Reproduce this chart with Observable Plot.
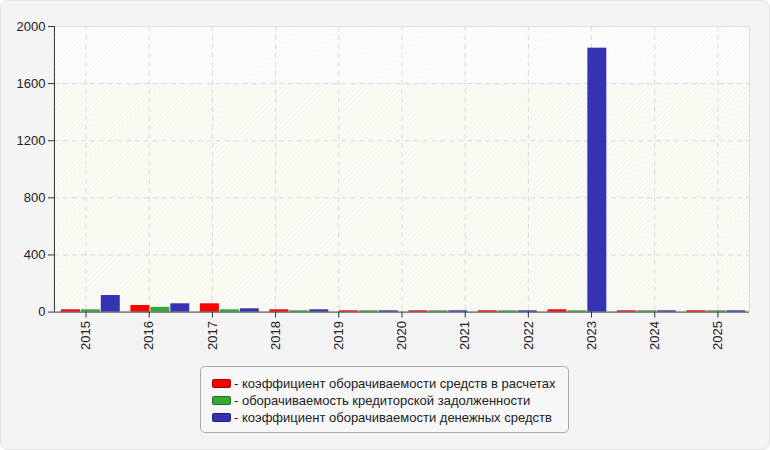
<!DOCTYPE html>
<html>
<head>
<meta charset="utf-8">
<script src="https://cdn.jsdelivr.net/npm/d3@7"></script>
<script src="https://cdn.jsdelivr.net/npm/@observablehq/plot@0.6"></script>
<style>
  html, body { margin: 0; padding: 0; background: #ffffff; }
  body { font-family: "Liberation Sans", Arial, sans-serif; }
  #card {
    position: relative; width: 768px; height: 448px;
    background: #f4f4f4; border: 1px solid #e3e3e3; border-radius: 8px; overflow: hidden;
  }
  #chart { position: absolute; left: -1px; top: -1px; }
  #legend {
    position: absolute; left: 199px; top: 365px; width: 369px; height: 67px;
    border: 1px solid #aaaaaa; border-radius: 5px; background: #f7f7f7;
    box-sizing: border-box; padding: 8px 0 0 11px;
    font-size: 13px; color: #222; line-height: 17px;
  }
  .row { display: flex; align-items: center; height: 17px; white-space: nowrap; }
  .sw { width: 17px; height: 7px; border-radius: 2px; margin-right: 3px; border: 1px solid rgba(0,0,0,0.35); }
</style>
</head>
<body>
<div id="card">
  <div id="chart"></div>
  <div id="legend"></div>
</div>
<script>
// ---- data ----
const barYears = [2015, 2016, 2017, 2018, 2019, 2020, 2021, 2022, 2023, 2024];
const axisYears = [2015, 2016, 2017, 2018, 2019, 2020, 2021, 2022, 2023, 2024, 2025];
const seriesNames = [
  "коэффициент оборачиваемости средств в расчетах",
  "оборачиваемость кредиторской задолженности",
  "коэффициент оборачиваемости денежных средств"
];
const receivablesTurnover = [16, 46, 58, 16, 9, 9, 9, 16, 9, 9];
const payablesTurnover    = [16, 33, 16, 9, 9, 9, 9, 9, 9, 9];
const cashTurnover        = [116, 58, 23, 16, 9, 9, 9, 1848, 9, 9];
const yTicks = [0, 400, 800, 1200, 1600, 2000];
const bandBreaks = [0, 1600, 2000];

// ---- styling ----
const colors = ["#ff0000", "#33aa33", "#3333b3"];
const seriesValues = [receivablesTurnover, payablesTurnover, cashTurnover];

// x is measured in axis-label units; bar groups are laid out in 10 equal slots across the same span
const xMin = axisYears[0] - 0.5, xMax = axisYears[axisYears.length - 1] + 0.5;
const groupW = (xMax - xMin) / barYears.length;
const bars = [];
barYears.forEach((yr, gi) => {
  seriesValues.forEach((vals, si) => {
    const x1 = xMin + groupW * (gi + 0.1 + si * 0.287);
    bars.push({year: yr, series: seriesNames[si], value: vals[gi], x1, x2: x1 + groupW * 0.273});
  });
});
const bands = [
  {y1: bandBreaks[0], y2: bandBreaks[1], kind: "low"},
  {y1: bandBreaks[1], y2: bandBreaks[2], kind: "high"}
];

const chart = Plot.plot({
  width: 770,
  height: 356,
  marginLeft: 54,
  marginRight: 20,
  marginTop: 26,
  marginBottom: 44,
  style: {background: "transparent", fontFamily: "'Liberation Sans', Arial, sans-serif", fontSize: "13px", color: "#222"},
  x: {type: "linear", domain: [xMin, xMax], axis: null},
  y: {domain: [0, 2000], axis: null},
  color: {domain: seriesNames, range: colors},
  marks: [
    Plot.rect(bands, {x1: xMin, x2: xMax, y1: "y1", y2: "y2", fill: d => d.kind === "low" ? "#fcfcf5" : "#ffffff"}),
    Plot.rect(bands, {x1: xMin, x2: xMax, y1: "y1", y2: "y2", fill: "url(#hatch)"}),
    Plot.gridX(axisYears, {stroke: "#d8d8d8", strokeOpacity: 1, strokeDasharray: "5,4"}),
    Plot.gridY(yTicks.filter(t => t > 0), {stroke: "#d8d8d8", strokeOpacity: 1, strokeDasharray: "5,4"}),
    Plot.ruleY([2000], {stroke: "#dddddd"}),
    Plot.ruleX([xMax], {stroke: "#dddddd"}),
    Plot.rect(bars, {x1: "x1", x2: "x2", y1: 0, y2: "value", fill: "series"}),
    Plot.ruleY([0], {stroke: "#333"}),
    Plot.ruleX([xMin], {stroke: "#333"}),
    Plot.axisY(yTicks, {tickSize: 6, tickPadding: 3, stroke: "#333", fill: "#222", tickFormat: d => String(d)}),
    Plot.axisX(axisYears, {tickSize: 6, tickPadding: 3, tickRotate: -90, stroke: "#333", fill: "#222", tickFormat: d => String(d)})
  ]
});

// hatch pattern definition
const svgSel = d3.select(chart);
const defs = svgSel.insert("defs", ":first-child");
const pat = defs.append("pattern").attr("id", "hatch").attr("patternUnits", "userSpaceOnUse")
  .attr("width", 5).attr("height", 5);
pat.append("path").attr("d", "M0,5L5,0M-1,1L1,-1M4,6L6,4")
  .attr("stroke", "#ececec").attr("stroke-width", 0.9).attr("fill", "none");

document.getElementById("chart").appendChild(chart);

// legend
const legend = document.getElementById("legend");
seriesNames.forEach((name, i) => {
  const row = document.createElement("div");
  row.className = "row";
  const sw = document.createElement("span");
  sw.className = "sw";
  sw.style.background = colors[i];
  const tx = document.createElement("span");
  tx.textContent = "- " + name;
  row.appendChild(sw);
  row.appendChild(tx);
  legend.appendChild(row);
});
</script>
</body>
</html>
